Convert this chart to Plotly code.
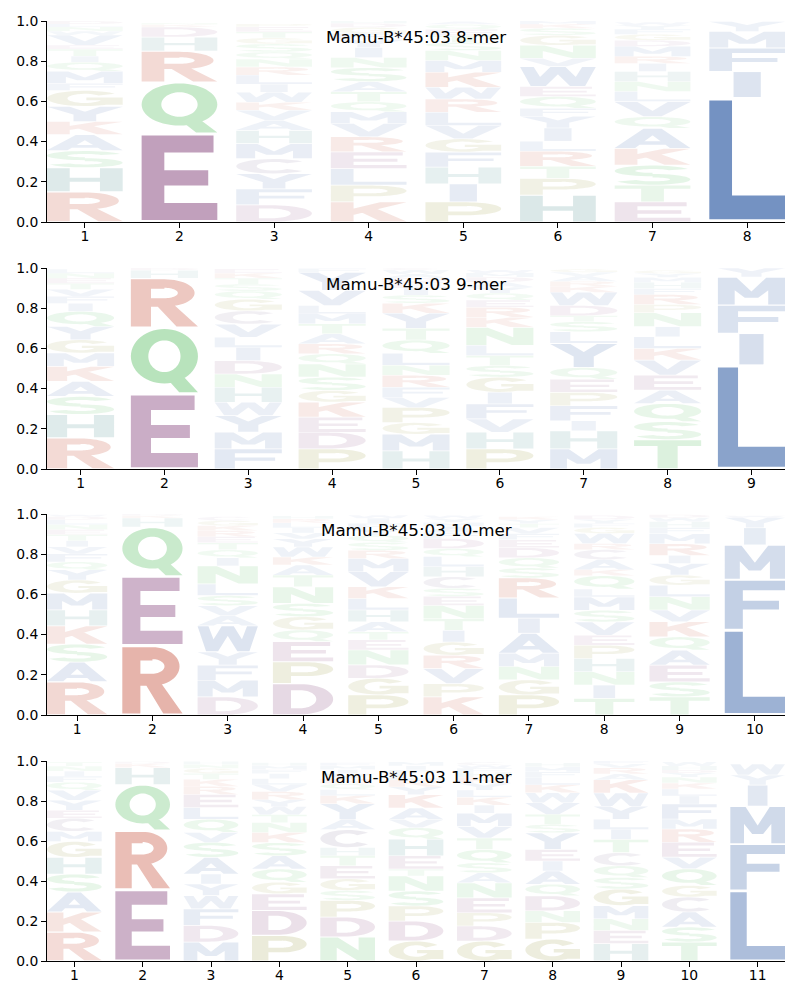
import math
import plotly.graph_objects as go

# ---------------- data (probability of each residue, stacked bottom -> top) ----------------
titles = ["Mamu-B*45:03 8-mer", "Mamu-B*45:03 9-mer", "Mamu-B*45:03 10-mer", "Mamu-B*45:03 11-mer"]
y_ticks = [0.0, 0.2, 0.4, 0.6, 0.8, 1.0]
y_tick_labels = ["0.0", "0.2", "0.4", "0.6", "0.8", "1.0"]

mer8_letters = [
    "RHSAKYGFMQITEVWNLD",
    "EQRHDKN",
    "DFYCMHAVKWILRNQSGTEP",
    "KPLERVMQTASNIYFGDH",
    "PIHFGVLRWKMNSTEQA",
    "HPTRLIYFQEWVNGSKM",
    "ETSKAQVLNHIRMDGFYW",
    "LIFMY",
]
mer8_heights = [
    [.15, .12, .085, .08, .065, .075, .08, .035, .06, .045, .03, .035, .02, .05, .02, .02, .015, .015],
    [.44, .255, .155, .07, .05, .012, .008],
    [.085, .08, .075, .075, .075, .066, .05, .05, .04, .05, .04, .045, .04, .04, .035, .04, .03, .03, .025, .015],
    [.1, .083, .083, .083, .075, .066, .058, .05, .05, .05, .07, .05, .05, .04, .03, .03, .02, .012],
    [.1, .09, .083, .075, .066, .066, .066, .066, .058, .075, .058, .05, .04, .035, .03, .025, .015],
    [.134, .083, .06, .075, .05, .066, .058, .04, .058, .05, .1, .04, .065, .05, .035, .02, .016],
    [.1, .083, .1, .083, .1, .058, .075, .05, .05, .05, .04, .035, .05, .03, .03, .025, .02, .015],
    [.619, .13, .117, .082, .05],
]

mer9_letters = [
    "RHSAKMGYQIFVTENL",
    "EQRHD",
    "FMYWHNDILVCGQSTKE",
    "PDEKGSNQRATMLVYF",
    "HMGPVFRNLQTYKSIEDAWC",
    "PHVFIGSTLNKREQYADMW",
    "MHIFPEQYLSTDWKRAVG",
    "TSQAEVKLINPRFHMYG",
    "LIFMY",
]
mer9_heights = [
    [.155, .116, .09, .075, .075, .066, .066, .066, .075, .04, .035, .035, .03, .025, .025, .02],
    [.374, .33, .245, .04, .011],
    [.1, .083, .083, .066, .075, .066, .066, .066, .05, .066, .066, .058, .04, .035, .03, .025, .02],
    [.1, .083, .075, .075, .058, .066, .066, .05, .05, .05, .05, .05, .04, .075, .09, .02],
    [.09, .083, .058, .075, .05, .05, .06, .05, .06, .066, .058, .075, .05, .04, .035, .03, .02, .02, .02, .01],
    [.1, .083, .066, .075, .058, .075, .058, .05, .05, .09, .05, .05, .035, .035, .03, .025, .025, .02, .015],
    [.1, .09, .05, .075, .066, .066, .058, .12, .058, .05, .03, .05, .066, .03, .025, .025, .02, .015],
    [.146, .09, .09, .066, .075, .075, .058, .058, .05, .07, .04, .05, .03, .03, .025, .02, .015],
    [.517, .158, .14, .14, .045],
]

mer10_letters = [
    "RASKHMGYQFVITENLDW",
    "REQHKD",
    "DMFYWAVSLNIQTERKGC",
    "DPEQGSNTAKWYVILRH",
    "PGDNETAHLKVMRSQYFIW",
    "KPVRGITNESCHLQDFAMYW",
    "PGNMAILRSQDEFVTYK",
    "TINHPEVSMLQKACRWGFYD",
    "TSEAQKVNLGYIRMFHWD",
    "LFMIYW",
]
mer10_heights = [
    [.166, .097, .09, .09, .08, .083, .066, .05, .04, .04, .035, .03, .03, .025, .025, .025, .015, .01],
    [.345, .345, .245, .045, .012, .008],
    [.09, .083, .075, .066, .13, .05, .05, .05, .058, .09, .04, .04, .035, .03, .03, .025, .025, .02],
    [.157, .108, .1, .058, .066, .066, .083, .058, .05, .04, .05, .04, .03, .025, .025, .02, .015],
    [.1, .083, .066, .075, .05, .04, .05, .058, .058, .058, .075, .066, .04, .04, .035, .03, .03, .025, .015],
    [.09, .066, .075, .066, .066, .058, .058, .066, .045, .04, .058, .05, .05, .04, .05, .03, .03, .02, .02, .015],
    [.1, .075, .066, .066, .1, .075, .1, .1, .05, .05, .05, .04, .03, .03, .02, .02, .015],
    [.083, .066, .066, .066, .066, .05, .066, .058, .066, .04, .066, .03, .05, .05, .03, .05, .03, .02, .02, .02],
    [.09, .075, .083, .075, .066, .075, .058, .066, .058, .05, .058, .04, .058, .05, .03, .03, .02, .015],
    [.424, .25, .172, .086, .05, .01],
]

mer11_letters = [
    "RKASHGMCEYVQFINT",
    "ERQHKD",
    "MDFWYIASVQLERKTGNH",
    "PDEGQASKNTWYRVLIFMH",
    "NDPSGETHCAYKLQRVIMF",
    "GDPSNTEHQVAKYRLFIM",
    "GDPENASQTVMIKLYRHFWC",
    "GPNDQAIEYSTVWKLFMH",
    "HENMGSQCTILYWKARVF",
    "TSACGQVERMFILKNYDHW",
    "LFMIYW",
]
mer11_heights = [
    [.145, .1, .1, .09, .083, .08, .05, .066, .04, .05, .05, .04, .03, .025, .025, .02],
    [.357, .295, .23, .085, .02, .01],
    [.095, .083, .083, .066, .058, .05, .083, .075, .05, .066, .058, .066, .04, .035, .03, .025, .02, .015],
    [.128, .125, .083, .058, .066, .066, .066, .05, .05, .04, .04, .035, .04, .035, .03, .025, .02, .02, .015],
    [.12, .1, .083, .05, .058, .066, .05, .04, .09, .05, .08, .04, .03, .03, .025, .025, .02, .02, .015],
    [.1, .1, .075, .075, .075, .035, .066, .083, .058, .04, .058, .066, .04, .035, .03, .02, .02, .02],
    [.1, .075, .066, .075, .075, .05, .05, .066, .058, .058, .066, .04, .04, .035, .035, .03, .025, .02, .015, .015],
    [.11, .083, .058, .075, .058, .066, .05, .058, .083, .042, .05, .058, .05, .04, .035, .03, .025, .02],
    [.087, .066, .058, .066, .083, .058, .058, .066, .066, .05, .05, .066, .066, .066, .03, .03, .02, .015],
    [.095, .075, .075, .075, .058, .083, .058, .075, .066, .05, .075, .04, .035, .03, .03, .02, .015, .02, .02],
    [.352, .233, .189, .106, .05, .055],
]

all_letters = [mer8_letters, mer9_letters, mer10_letters, mer11_letters]
all_heights = [mer8_heights, mer9_heights, mer10_heights, mer11_heights]

# ---------------- styling ----------------
BLUE = (76, 114, 176)
PURPLE = (145, 86, 136)
RED = (200, 88, 66)
TEAL = (70, 140, 140)
GREEN = (90, 190, 100)
OLIVE = (150, 150, 60)
LAV = (130, 110, 150)
base_color = {}
for c in "AVLIMFWY":
    base_color[c] = BLUE
for c in "DE":
    base_color[c] = PURPLE
for c in "KR":
    base_color[c] = RED
base_color["H"] = TEAL
for c in "NQST":
    base_color[c] = GREEN
for c in "GP":
    base_color[c] = OLIVE
base_color["C"] = LAV


def arc_pts(cx, cy, rx, ry, a0, a1, n=28):
    pts = []
    for i in range(n + 1):
        a = math.radians(a0 + (a1 - a0) * i / n)
        pts.append((cx + rx * math.cos(a), cy + ry * math.sin(a)))
    return pts


def annulus(cx, cy, rxo, ryo, rxi, ryi, a0, a1, n=28):
    return arc_pts(cx, cy, rxo, ryo, a0, a1, n) + arc_pts(cx, cy, rxi, ryi, a1, a0, n)


def rect(x0, y0, x1, y1):
    return [(x0, y0), (x1, y0), (x1, y1), (x0, y1)]


GLYPHS = {
    "A": [[(0, 0), (0.27, 0), (0.62, 1), (0.38, 1)], [(0.73, 0), (1, 0), (0.62, 1), (0.38, 1)], rect(0.2, 0.17, 0.8, 0.35)],
    "C": [annulus(0.5, 0.5, 0.5, 0.5, 0.23, 0.3, 42, 318)],
    "D": [rect(0, 0, 0.3, 1), rect(0, 0, 0.46, 0.2), rect(0, 0.8, 0.46, 1), annulus(0.45, 0.5, 0.55, 0.5, 0.27, 0.3, -90, 90)],
    "E": [rect(0, 0, 0.3, 1), rect(0, 0.8, 0.95, 1), rect(0, 0.41, 0.88, 0.59), rect(0, 0, 1, 0.2)],
    "F": [rect(0, 0, 0.3, 1), rect(0, 0.8, 1, 1), rect(0, 0.4, 0.9, 0.58)],
    "G": [annulus(0.5, 0.5, 0.5, 0.5, 0.23, 0.3, 38, 345), rect(0.52, 0.38, 1, 0.55), rect(0.74, 0.08, 1, 0.55)],
    "H": [rect(0, 0, 0.3, 1), rect(0.7, 0, 1, 1), rect(0, 0.41, 1, 0.59)],
    "I": [rect(0.32, 0, 0.68, 1)],
    "K": [rect(0, 0, 0.3, 1), [(0.25, 0.3), (1.0, 1), (0.65, 1), (0.25, 0.63)], [(0.38, 0.52), (0.66, 0), (1, 0), (0.6, 0.68)]],
    "L": [rect(0, 0, 0.3, 1), rect(0, 0, 1, 0.2)],
    "M": [rect(0, 0, 0.25, 1), rect(0.75, 0, 1, 1), [(0, 1), (0.28, 1), (0.6, 0.25), (0.4, 0.25)], [(1, 1), (0.72, 1), (0.4, 0.25), (0.6, 0.25)]],
    "N": [rect(0, 0, 0.3, 1), rect(0.7, 0, 1, 1), [(0, 1), (0.32, 1), (1, 0), (0.68, 0)]],
    "P": [rect(0, 0, 0.3, 1), rect(0, 0.8, 0.55, 1), rect(0, 0.33, 0.55, 0.52), annulus(0.55, 0.665, 0.45, 0.335, 0.2, 0.145, -90, 90)],
    "Q": [annulus(0.5, 0.57, 0.5, 0.43, 0.24, 0.25, 0, 180), annulus(0.5, 0.57, 0.5, 0.43, 0.24, 0.25, 180, 360),
          [(0.52, 0.24), (0.74, 0.3), (1.0, 0.0), (0.72, 0.0)]],
    "R": [rect(0, 0, 0.3, 1), rect(0, 0.8, 0.5, 1), rect(0, 0.42, 0.5, 0.6), annulus(0.5, 0.71, 0.45, 0.29, 0.2, 0.11, -90, 90),
          [(0.38, 0.45), (0.65, 0.45), (1, 0), (0.68, 0)]],
    "S": [annulus(0.5, 0.72, 0.5, 0.28, 0.23, 0.1, 22, 270), annulus(0.5, 0.28, 0.5, 0.28, 0.23, 0.1, -158, 90)],
    "T": [rect(0, 0.8, 1, 1), rect(0.35, 0, 0.65, 1)],
    "V": [[(0, 1), (0.3, 1), (0.62, 0), (0.38, 0)], [(1, 1), (0.7, 1), (0.38, 0), (0.62, 0)]],
    "W": [[(0, 1), (0.18, 1), (0.34, 0), (0.14, 0)], [(0.14, 0), (0.34, 0), (0.6, 1), (0.4, 1)],
          [(0.4, 1), (0.6, 1), (0.86, 0), (0.66, 0)], [(0.66, 0), (0.86, 0), (1, 1), (0.82, 1)]],
    "Y": [[(0, 1), (0.3, 1), (0.63, 0.42), (0.37, 0.42)], [(1, 1), (0.7, 1), (0.37, 0.42), (0.63, 0.42)], rect(0.35, 0, 0.65, 0.5)],
}


def ccw(poly):
    a = 0.0
    for i in range(len(poly)):
        x0, y0 = poly[i]
        x1, y1 = poly[(i + 1) % len(poly)]
        a += x0 * y1 - x1 * y0
    return poly if a > 0 else poly[::-1]


def glyph_path(letter, xc, y0, y1, width=0.8):
    parts = []
    for poly in GLYPHS[letter]:
        poly = ccw(poly)
        coords = [(xc - width / 2 + gx * width, y0 + gy * (y1 - y0)) for gx, gy in poly]
        s = "M " + " L ".join(f"{x:.4f},{y:.5f}" for x, y in coords) + " Z"
        parts.append(s)
    return " ".join(parts)


# ---------------- layout geometry ----------------
x_dom = [47 / 800, 785 / 800]
y_doms = [[1 - 222 / 1000, 1 - 21 / 1000], [1 - 469 / 1000, 1 - 268 / 1000],
          [1 - 715 / 1000, 1 - 514 / 1000], [1 - 961 / 1000, 1 - 761 / 1000]]
FONT = "DejaVu Sans"
VPAD = 0.045

fig = go.Figure()
shapes = []
annotations = []
layout_axes = {}

for k in range(4):
    letters = all_letters[k]
    heights = all_heights[k]
    n = len(letters)
    xa = "x" if k == 0 else f"x{k + 1}"
    ya = "y" if k == 0 else f"y{k + 1}"
    positions = list(range(1, n + 1))
    fig.add_trace(go.Scatter(x=positions, y=[0] * n, mode="markers", marker=dict(opacity=0),
                             xaxis=xa, yaxis=ya, hoverinfo="skip", showlegend=False))
    for p, (lets, hs) in enumerate(zip(letters, heights)):
        xc = p + 1
        base = 0.0
        for L, h in zip(lets, hs):
            y0 = base + VPAD * h / 2
            y1 = base + h - VPAD * h / 2
            base += h
            alpha = min(1.0, 0.035 + 1.2 * h)
            r, g, b = base_color[L]
            shapes.append(dict(type="path", path=glyph_path(L, xc, y0, y1), xref=xa, yref=ya,
                               fillcolor=f"rgba({r},{g},{b},{alpha:.3f})", line=dict(width=0),
                               fillrule="nonzero", layer="below"))
    axis_common = dict(showline=True, linecolor="black", linewidth=1, ticks="outside", ticklen=5,
                       tickwidth=1, tickcolor="black", showgrid=False, zeroline=False,
                       automargin=False,
                       tickfont=dict(family=FONT, size=13.9, color="black"), fixedrange=True)
    layout_axes["xaxis" if k == 0 else f"xaxis{k + 1}"] = dict(
        domain=x_dom, range=[0.6, n + 0.4], tickmode="array", tickvals=positions,
        ticktext=[str(v) for v in positions], anchor=ya, ticklabelstandoff=-4, **axis_common)
    layout_axes["yaxis" if k == 0 else f"yaxis{k + 1}"] = dict(
        domain=y_doms[k], range=[0, 1], tickmode="array", tickvals=y_ticks, ticktext=y_tick_labels,
        anchor=xa, **axis_common)
    annotations.append(dict(text=titles[k], xref=f"{xa} domain", yref=f"{ya} domain", x=0.5, y=1,
                            xanchor="center", yanchor="top", yshift=-4, showarrow=False,
                            font=dict(family=FONT, size=16.7, color="black")))

fig.update_layout(width=800, height=1000, margin=dict(l=0, r=0, t=0, b=0, autoexpand=False),
                  paper_bgcolor="white", plot_bgcolor="white", shapes=shapes,
                  annotations=annotations, showlegend=False, **layout_axes)
fig.write_html("out.html")
